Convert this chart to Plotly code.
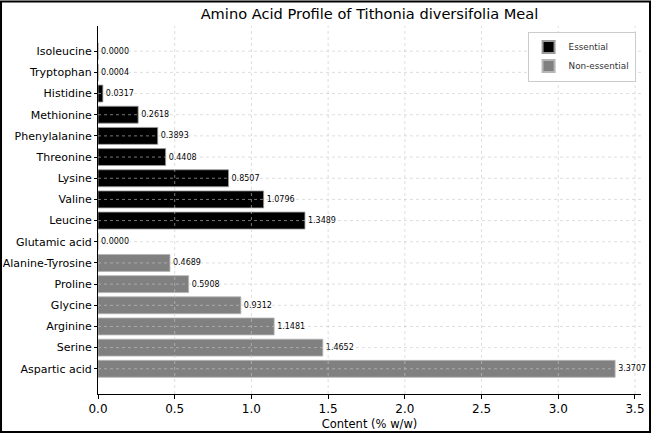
import plotly.graph_objects as go

essential_names = ["Isoleucine", "Tryptophan", "Histidine", "Methionine", "Phenylalanine",
                   "Threonine", "Lysine", "Valine", "Leucine"]
essential_vals = [0.0000, 0.0004, 0.0317, 0.2618, 0.3893, 0.4408, 0.8507, 1.0796, 1.3489]
nonessential_names = ["Glutamic acid", "Alanine-Tyrosine", "Proline", "Glycine",
                      "Arginine", "Serine", "Aspartic acid"]
nonessential_vals = [0.0000, 0.4689, 0.5908, 0.9312, 1.1481, 1.4652, 3.3707]
x_ticks = [0.0, 0.5, 1.0, 1.5, 2.0, 2.5, 3.0, 3.5]

order_top_to_bottom = essential_names + nonessential_names
order_bottom_to_top = list(reversed(order_top_to_bottom))

FONT = "DejaVu Sans"
fig = go.Figure()
fig.add_trace(go.Bar(
    x=essential_vals, y=essential_names, orientation="h", name="Essential",
    marker=dict(color="#000000", line=dict(color="#9a9a9a", width=0.8)),
    width=0.8, text=[f"{v:.4f}" for v in essential_vals], textposition="outside",
    textfont=dict(size=8, color="#000000", family=FONT), cliponaxis=False,
))
fig.add_trace(go.Bar(
    x=nonessential_vals, y=nonessential_names, orientation="h", name="Non-essential",
    marker=dict(color="#808080", line=dict(color="#b5b5b5", width=0.8)),
    width=0.8, text=[f"{v:.4f}" for v in nonessential_vals], textposition="outside",
    textfont=dict(size=8, color="#000000", family=FONT), cliponaxis=False,
))

xmax = max(essential_vals + nonessential_vals) * 1.05
ncat = len(order_top_to_bottom)
ylo, yhi = -0.4 - 0.79, ncat - 1 + 0.4 + 0.79

shapes = []
grid_style = dict(color="rgba(200,200,200,0.75)", width=0.8, dash="dot")
for t in x_ticks[1:]:
    shapes.append(dict(type="line", xref="x", yref="paper", x0=t, x1=t, y0=0, y1=1,
                       line=grid_style, layer="above"))
for i in range(ncat):
    shapes.append(dict(type="line", xref="paper", yref="y", x0=0, x1=1, y0=i, y1=i,
                       line=grid_style, layer="above"))
# outer frame of the image
shapes.append(dict(type="rect", xref="paper", yref="paper",
                   x0=-0.1786, x1=1.0166, y0=-0.1033, y1=1.0667,
                   line=dict(color="black", width=2), layer="above"))

fig.update_layout(
    width=651, height=435,
    margin=dict(l=98, r=10, t=26, b=41, autoexpand=False),
    paper_bgcolor="white", plot_bgcolor="white",
    barmode="overlay",
    font=dict(family=FONT, color="#000000"),
    title=dict(text="Amino Acid Profile of Tithonia diversifolia Meal",
               x=0.5, xref="paper", xanchor="center", y=0.968, yanchor="middle",
               font=dict(size=14.6, family=FONT)),
    legend=dict(x=0.99, y=0.985, xanchor="right", yanchor="top",
                bgcolor="white", bordercolor="#cccccc", borderwidth=1,
                font=dict(size=8.8, family=FONT, color="#333333"), tracegroupgap=0,
                itemsizing="constant"),
    shapes=shapes,
    xaxis=dict(range=[0, xmax], tickvals=x_ticks, ticktext=[f"{t:.1f}" for t in x_ticks],
               showgrid=False, zeroline=False, showline=True, linecolor="black",
               linewidth=1, ticks="outside", ticklen=4, tickcolor="black",
               automargin=False,
               tickfont=dict(size=12, family=FONT),
               title=dict(text="Content (% w/w)", font=dict(size=11.5, family=FONT),
                          standoff=4)),
    yaxis=dict(type="category", categoryorder="array", categoryarray=order_bottom_to_top,
               range=[ylo, yhi], showgrid=False, zeroline=False, showline=True,
               linecolor="black", linewidth=1, ticks="outside", ticklen=3,
               automargin=False,
               tickcolor="black", tickfont=dict(size=11, family=FONT)),
)

fig.write_html("out.html")
